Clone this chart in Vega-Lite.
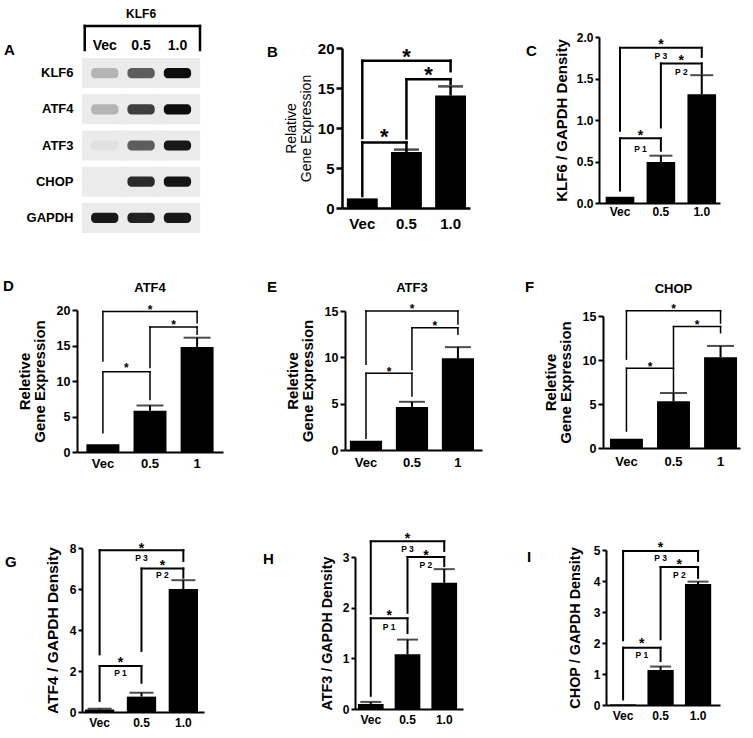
{
"$schema":"https://vega.github.io/schema/vega-lite/v6.json",
"background":"white",
"padding":{"left":3,"top":7,"right":2,"bottom":2},
"config":{"font":"Liberation Sans","view":{"stroke":null},"axis":{"grid":false,"labelFont":"Liberation Sans","titleFont":"Liberation Sans"},"title":{"font":"Liberation Sans"},"text":{"font":"Liberation Sans"}},
"datasets":{
"blot":[
{"protein":"KLF6","lane":"Vec","intensity":0.22},{"protein":"KLF6","lane":"0.5","intensity":0.6},{"protein":"KLF6","lane":"1.0","intensity":1.0},
{"protein":"ATF4","lane":"Vec","intensity":0.22},{"protein":"ATF4","lane":"0.5","intensity":0.75},{"protein":"ATF4","lane":"1.0","intensity":1.0},
{"protein":"ATF3","lane":"Vec","intensity":0.04},{"protein":"ATF3","lane":"0.5","intensity":0.6},{"protein":"ATF3","lane":"1.0","intensity":0.95},
{"protein":"CHOP","lane":"Vec","intensity":0.0},{"protein":"CHOP","lane":"0.5","intensity":0.85},{"protein":"CHOP","lane":"1.0","intensity":0.97},
{"protein":"GAPDH","lane":"Vec","intensity":0.95},{"protein":"GAPDH","lane":"0.5","intensity":0.9},{"protein":"GAPDH","lane":"1.0","intensity":0.95}
],
"lanes":[{"lane":"Vec"},{"lane":"0.5"},{"lane":"1.0"}],
"bars":[
{"p":"B","dose":"Vec","mean":1.2,"hi":1.2},{"p":"B","dose":"0.5","mean":7.0,"hi":7.3},{"p":"B","dose":"1.0","mean":14.05,"hi":15.2},
{"p":"C","dose":"Vec","mean":0.075,"hi":0.075},{"p":"C","dose":"0.5","mean":0.495,"hi":0.57},{"p":"C","dose":"1.0","mean":1.31,"hi":1.54},
{"p":"D","dose":"Vec","mean":1.1,"hi":1.1},{"p":"D","dose":"0.5","mean":5.8,"hi":6.55},{"p":"D","dose":"1","mean":14.8,"hi":16.1},
{"p":"E","dose":"Vec","mean":1.0,"hi":1.0},{"p":"E","dose":"0.5","mean":4.65,"hi":5.2},{"p":"E","dose":"1","mean":9.9,"hi":11.1},
{"p":"F","dose":"Vec","mean":1.05,"hi":1.05},{"p":"F","dose":"0.5","mean":5.3,"hi":6.25},{"p":"F","dose":"1","mean":10.3,"hi":11.6},
{"p":"G","dose":"Vec","mean":0.12,"hi":0.16},{"p":"G","dose":"0.5","mean":0.75,"hi":0.94},{"p":"G","dose":"1.0","mean":6.0,"hi":6.43},
{"p":"H","dose":"Vec","mean":0.1,"hi":0.14},{"p":"H","dose":"0.5","mean":1.08,"hi":1.37},{"p":"H","dose":"1.0","mean":2.49,"hi":2.76},
{"p":"I","dose":"Vec","mean":0.02,"hi":0.02},{"p":"I","dose":"0.5","mean":1.13,"hi":1.24},{"p":"I","dose":"1.0","mean":3.9,"hi":3.98}
],
"brk":[
{"p":"B","from":"Vec","to":"0.5","span":1,"y":8.2,"lo1":1.5,"lo2":7.4,"sy":9.6},
{"p":"B","from":"0.5","to":"1.0","span":1,"y":16.1,"lo1":8.7,"lo2":15.5,"sy":17.3},
{"p":"B","from":"Vec","to":"1.0","span":2,"y":18.4,"lo1":8.75,"lo2":17.1,"sy":19.6},
{"p":"C","from":"Vec","to":"0.5","span":1,"y":0.78,"lo1":0.15,"lo2":0.63,"sy":0.85,"lab":"P 1","ly":0.655},
{"p":"C","from":"0.5","to":"1.0","span":1,"y":1.68,"lo1":0.91,"lo2":1.56,"sy":1.75,"lab":"P 2","ly":1.575},
{"p":"C","from":"Vec","to":"1.0","span":2,"y":1.87,"lo1":0.87,"lo2":1.76,"sy":1.95,"lab":"P 3","ly":1.77},
{"p":"D","from":"Vec","to":"0.5","span":1,"y":11.3,"lo1":2.7,"lo2":7.4,"sy":12.2},
{"p":"D","from":"0.5","to":"1","span":1,"y":17.6,"lo1":11.9,"lo2":16.6,"sy":18.3},
{"p":"D","from":"Vec","to":"1","span":2,"y":19.8,"lo1":12.8,"lo2":18.2,"sy":20.5},
{"p":"E","from":"Vec","to":"0.5","span":1,"y":8.27,"lo1":1.26,"lo2":5.83,"sy":8.8},
{"p":"E","from":"0.5","to":"1","span":1,"y":13.2,"lo1":8.7,"lo2":12.5,"sy":13.7},
{"p":"E","from":"Vec","to":"1","span":2,"y":15.0,"lo1":9.25,"lo2":13.6,"sy":15.5},
{"p":"F","from":"Vec","to":"0.5","span":1,"y":9.06,"lo1":1.93,"lo2":6.4,"sy":9.6},
{"p":"F","from":"0.5","to":"1","span":1,"y":13.8,"lo1":9.12,"lo2":13.1,"sy":14.3},
{"p":"F","from":"Vec","to":"1","span":2,"y":15.6,"lo1":10.1,"lo2":14.2,"sy":16.1},
{"p":"G","from":"Vec","to":"0.5","span":1,"y":2.24,"lo1":0.54,"lo2":1.43,"sy":2.57,"lab":"P 1","ly":1.89},
{"p":"G","from":"0.5","to":"1.0","span":1,"y":7.0,"lo1":2.98,"lo2":6.55,"sy":7.28,"lab":"P 2","ly":6.67},
{"p":"G","from":"Vec","to":"1.0","span":2,"y":7.89,"lo1":2.81,"lo2":7.37,"sy":8.15,"lab":"P 3","ly":7.5},
{"p":"H","from":"Vec","to":"0.5","span":1,"y":1.79,"lo1":0.26,"lo2":1.5,"sy":1.91,"lab":"P 1","ly":1.62},
{"p":"H","from":"0.5","to":"1.0","span":1,"y":3.0,"lo1":1.9,"lo2":2.82,"sy":3.1,"lab":"P 2","ly":2.84},
{"p":"H","from":"Vec","to":"1.0","span":2,"y":3.31,"lo1":1.88,"lo2":3.12,"sy":3.43,"lab":"P 3","ly":3.16},
{"p":"I","from":"Vec","to":"0.5","span":1,"y":1.85,"lo1":0.18,"lo2":1.42,"sy":2.09,"lab":"P 1","ly":1.6},
{"p":"I","from":"0.5","to":"1.0","span":1,"y":4.45,"lo1":2.12,"lo2":4.1,"sy":4.62,"lab":"P 2","ly":4.19},
{"p":"I","from":"Vec","to":"1.0","span":2,"y":4.97,"lo1":2.09,"lo2":4.65,"sy":5.18,"lab":"P 3","ly":4.73}
]
},
"columns":3,"bounds":"flush","spacing":0,
"concat":[
 {"width":265,"height":233,
  "title":{"text":"A","fontSize":15,"fontWeight":"bold","color":"#000","anchor":"start","frame":"group","offset":0,"baseline":"alphabetic","align":"left","dx":-73,"dy":62},
  "resolve":{"scale":{"y":"independent"},"axis":{"x":"independent","y":"independent"}},
  "layer":[
   {"data":{"name":"blot"},"mark":{"type":"rect","color":"#ebebeb","width":{"band":1.25}},
    "encoding":{"x":{"field":"lane","type":"nominal","scale":{"domain":["Vec","0.5","1.0"],"range":[3,123],"paddingInner":0,"paddingOuter":0.15,"align":0.6},"axis":null},
     "y":{"field":"protein","type":"nominal","scale":{"domain":["KLF6","ATF4","ATF3","CHOP","GAPDH"],"range":[50,225],"paddingInner":0.17,"paddingOuter":0},"axis":{"title":null,"ticks":false,"domain":false,"labelFontSize":13,"labelFontWeight":"bold","labelColor":"#000","labelPadding":7,"offset":-3}}}},
   {"data":{"name":"blot"},"mark":{"type":"rect","width":{"band":0.75},"height":{"band":0.34},"cornerRadius":4},
    "encoding":{"x":{"field":"lane","type":"nominal","axis":null},
     "y":{"field":"protein","type":"nominal","scale":{"domain":["KLF6","ATF4","ATF3","CHOP","GAPDH"],"range":[50,225],"paddingInner":0.17,"paddingOuter":0},"axis":null},
     "color":{"field":"intensity","type":"quantitative","scale":{"domain":[0,1],"range":["#ebebeb","#0d0d0d"]},"legend":null}}},
   {"data":{"name":"lanes"},"mark":{"type":"text","fontSize":14,"fontWeight":"bold","baseline":"alphabetic","color":"#000"},
    "encoding":{"x":{"field":"lane","type":"nominal","axis":null},
     "y":{"datum":0,"type":"quantitative","scale":{"domain":[0,1],"range":[42,18]},"axis":null},"text":{"field":"lane"}}},
   {"data":{"values":[{}]},"mark":{"type":"text","text":"KLF6","fontSize":12,"fontWeight":"bold","baseline":"alphabetic","color":"#000"},
    "encoding":{"x":{"datum":"0.5","type":"nominal","axis":null},"y":{"datum":1.35,"type":"quantitative","scale":{"domain":[0,1],"range":[42,18]},"axis":null}}},
   {"data":{"values":[{}]},"mark":{"type":"rule","color":"#000","strokeWidth":2.5,"strokeCap":"square"},
    "encoding":{"x":{"datum":"Vec","type":"nominal","bandPosition":-0.05,"axis":null},"x2":{"datum":"1.0","bandPosition":1.12},"y":{"datum":1,"type":"quantitative","scale":{"domain":[0,1],"range":[42,18]},"axis":null}}},
   {"data":{"values":[{}]},"mark":{"type":"rule","color":"#000","strokeWidth":2.5,"strokeCap":"square"},
    "encoding":{"x":{"datum":"Vec","type":"nominal","bandPosition":-0.05,"axis":null},"y":{"datum":1,"type":"quantitative","scale":{"domain":[0,1],"range":[42,18]},"axis":null},"y2":{"datum":0}}},
   {"data":{"values":[{}]},"mark":{"type":"rule","color":"#000","strokeWidth":2.5,"strokeCap":"square"},
    "encoding":{"x":{"datum":"1.0","type":"nominal","bandPosition":1.12,"axis":null},"y":{"datum":1,"type":"quantitative","scale":{"domain":[0,1],"range":[42,18]},"axis":null},"y2":{"datum":0}}}
  ]},

 {"width":257,"height":233,
  "title":{"text":"B","fontSize":15,"fontWeight":"bold","color":"#000","anchor":"start","frame":"group","offset":0,"baseline":"alphabetic","align":"left","dx":-75,"dy":64},
  "resolve":{"axis":{"x":"independent","y":"independent"}},
  "layer":[
   {"data":{"name":"bars"},"transform":[{"filter":"datum.p==='B'"}],"mark":{"type":"bar","color":"#000"},
    "encoding":{
     "x":{"field":"dose","type":"nominal","scale":{"domain":["Vec","0.5","1.0"],"range":[0,128],"paddingInner":0.3,"paddingOuter":0.1,"align":0.55},"axis":{"title":null,"ticks":false,"offset":-33,"domainColor":"#000","domainWidth":2.5,"labelFontSize":15,"labelFontWeight":"bold","labelColor":"#000","labelPadding":8,"labelAngle":0}},
     "y":{"field":"mean","type":"quantitative","scale":{"domain":[0,20],"range":[200,40],"nice":false},"axis":{"title":["Relative","Gene Expression"],"values":[0,5,10,15,20],"format":"d","domainColor":"#000","domainWidth":2.5,"tickColor":"#000","tickWidth":2.5,"tickSize":6,"labelFontSize":15,"labelFontWeight":"bold","labelColor":"#000","labelPadding":2,"titleFontSize":14,"titleFontWeight":"normal","titleColor":"#000","titlePadding":4,"titleLineHeight":15}}}},
   {"data":{"name":"bars"},"transform":[{"filter":"datum.p==='B' && datum.hi>datum.mean"}],"mark":{"type":"rule","color":"#000","strokeWidth":2.5},
    "encoding":{"x":{"field":"dose","type":"nominal","axis":null},"y":{"field":"mean","type":"quantitative","axis":null},"y2":{"field":"hi"}}},
   {"data":{"name":"bars"},"transform":[{"filter":"datum.p==='B' && datum.hi>datum.mean"}],"mark":{"type":"tick","color":"#000","thickness":2.5,"size":25},
    "encoding":{"x":{"field":"dose","type":"nominal","axis":null},"y":{"field":"hi","type":"quantitative","axis":null}}},
   {"data":{"name":"brk"},"transform":[{"filter":"datum.p==='B'"}],"mark":{"type":"rule","color":"#000","strokeWidth":2.5,"strokeCap":"square"},
    "encoding":{"x":{"field":"from","type":"nominal","axis":null},"x2":{"field":"to"},"y":{"field":"y","type":"quantitative","axis":null}}},
   {"data":{"name":"brk"},"transform":[{"filter":"datum.p==='B'"}],"mark":{"type":"rule","color":"#000","strokeWidth":2.5,"strokeCap":"square"},
    "encoding":{"x":{"field":"from","type":"nominal","axis":null},"y":{"field":"y","type":"quantitative","axis":null},"y2":{"field":"lo1"}}},
   {"data":{"name":"brk"},"transform":[{"filter":"datum.p==='B'"}],"mark":{"type":"rule","color":"#000","strokeWidth":2.5,"strokeCap":"square"},
    "encoding":{"x":{"field":"to","type":"nominal","axis":null},"y":{"field":"y","type":"quantitative","axis":null},"y2":{"field":"lo2"}}},
   {"data":{"name":"brk"},"transform":[{"filter":"datum.p==='B' && datum.span===1"}],"mark":{"type":"text","text":"*","fontSize":22,"fontWeight":"bold","baseline":"middle","dy":5.7,"color":"#000"},
    "encoding":{"x":{"field":"from","type":"nominal","bandPosition":1.2143,"axis":null},"y":{"field":"sy","type":"quantitative","axis":null}}},
   {"data":{"name":"brk"},"transform":[{"filter":"datum.p==='B' && datum.span===2"}],"mark":{"type":"text","text":"*","fontSize":22,"fontWeight":"bold","baseline":"middle","dy":5.7,"color":"#000"},
    "encoding":{"x":{"field":"from","type":"nominal","bandPosition":1.9286,"axis":null},"y":{"field":"sy","type":"quantitative","axis":null}}}
  ]},

 {"width":142,"height":233,
  "title":{"text":"C","fontSize":15,"fontWeight":"bold","color":"#000","anchor":"start","frame":"group","offset":0,"baseline":"alphabetic","align":"left","dx":-73,"dy":63},
  "resolve":{"axis":{"x":"independent","y":"independent"}},
  "layer":[
   {"data":{"name":"bars"},"transform":[{"filter":"datum.p==='C'"}],"mark":{"type":"bar","color":"#000"},
    "encoding":{
     "x":{"field":"dose","type":"nominal","scale":{"domain":["Vec","0.5","1.0"],"range":[0,121],"paddingInner":0.3,"paddingOuter":0.13,"align":0.63},"axis":{"title":null,"ticks":false,"offset":-38,"domainColor":"#000","domainWidth":2,"labelFontSize":12,"labelFontWeight":"bold","labelColor":"#000","labelPadding":3,"labelAngle":0}},
     "y":{"field":"mean","type":"quantitative","scale":{"domain":[0,2],"range":[195,29],"nice":false},"axis":{"title":"KLF6 / GAPDH Density","values":[0,0.5,1,1.5,2],"format":".1f","domainColor":"#000","domainWidth":2,"tickColor":"#000","tickWidth":2,"tickSize":4,"labelFontSize":12,"labelFontWeight":"bold","labelColor":"#000","labelPadding":2,"titleFontSize":15,"titleFontWeight":"bold","titleColor":"#000","titlePadding":7}}}},
   {"data":{"name":"bars"},"transform":[{"filter":"datum.p==='C' && datum.hi>datum.mean"}],"mark":{"type":"rule","color":"#000","strokeWidth":2},
    "encoding":{"x":{"field":"dose","type":"nominal","axis":null},"y":{"field":"mean","type":"quantitative","axis":null},"y2":{"field":"hi"}}},
   {"data":{"name":"bars"},"transform":[{"filter":"datum.p==='C' && datum.hi>datum.mean"}],"mark":{"type":"tick","color":"#000","thickness":2,"size":23},
    "encoding":{"x":{"field":"dose","type":"nominal","axis":null},"y":{"field":"hi","type":"quantitative","axis":null}}},
   {"data":{"name":"brk"},"transform":[{"filter":"datum.p==='C'"}],"mark":{"type":"rule","color":"#000","strokeWidth":2,"strokeCap":"square"},
    "encoding":{"x":{"field":"from","type":"nominal","axis":null},"x2":{"field":"to"},"y":{"field":"y","type":"quantitative","axis":null}}},
   {"data":{"name":"brk"},"transform":[{"filter":"datum.p==='C'"}],"mark":{"type":"rule","color":"#000","strokeWidth":2,"strokeCap":"square"},
    "encoding":{"x":{"field":"from","type":"nominal","axis":null},"y":{"field":"y","type":"quantitative","axis":null},"y2":{"field":"lo1"}}},
   {"data":{"name":"brk"},"transform":[{"filter":"datum.p==='C'"}],"mark":{"type":"rule","color":"#000","strokeWidth":2,"strokeCap":"square"},
    "encoding":{"x":{"field":"to","type":"nominal","axis":null},"y":{"field":"y","type":"quantitative","axis":null},"y2":{"field":"lo2"}}},
   {"data":{"name":"brk"},"transform":[{"filter":"datum.p==='C' && datum.span===1"}],"mark":{"type":"text","text":"*","fontSize":14,"fontWeight":"bold","baseline":"middle","dy":3.6,"color":"#000"},
    "encoding":{"x":{"field":"from","type":"nominal","bandPosition":1.2143,"axis":null},"y":{"field":"sy","type":"quantitative","axis":null}}},
   {"data":{"name":"brk"},"transform":[{"filter":"datum.p==='C' && datum.span===2"}],"mark":{"type":"text","text":"*","fontSize":14,"fontWeight":"bold","baseline":"middle","dy":3.6,"color":"#000"},
    "encoding":{"x":{"field":"from","type":"nominal","bandPosition":1.9286,"axis":null},"y":{"field":"sy","type":"quantitative","axis":null}}},
   {"data":{"name":"brk"},"transform":[{"filter":"datum.p==='C' && datum.span===1"}],"mark":{"type":"text","fontSize":8.5,"fontWeight":"bold","baseline":"middle","color":"#000"},
    "encoding":{"x":{"field":"from","type":"nominal","bandPosition":1.2143,"axis":null},"y":{"field":"ly","type":"quantitative","axis":null},"text":{"field":"lab"}}},
   {"data":{"name":"brk"},"transform":[{"filter":"datum.p==='C' && datum.span===2"}],"mark":{"type":"text","fontSize":8.5,"fontWeight":"bold","baseline":"middle","color":"#000"},
    "encoding":{"x":{"field":"from","type":"nominal","bandPosition":1.9286,"axis":null},"y":{"field":"ly","type":"quantitative","axis":null},"text":{"field":"lab"}}}
  ]},

 {"width":265,"height":240,
  "title":{"text":"D","fontSize":15,"fontWeight":"bold","color":"#000","anchor":"start","frame":"group","offset":0,"baseline":"alphabetic","align":"left","dx":-74,"dy":65},
  "resolve":{"axis":{"x":"independent","y":"independent"}},
  "layer":[
   {"data":{"name":"bars"},"transform":[{"filter":"datum.p==='D'"}],"mark":{"type":"bar","color":"#000"},
    "encoding":{
     "x":{"field":"dose","type":"nominal","scale":{"domain":["Vec","0.5","1"],"range":[0,146],"paddingInner":0.3,"paddingOuter":0.2,"align":0.5},"axis":{"title":null,"ticks":false,"offset":-29,"domainColor":"#000","domainWidth":2,"labelFontSize":13,"labelFontWeight":"bold","labelColor":"#000","labelPadding":5,"labelAngle":0}},
     "y":{"field":"mean","type":"quantitative","scale":{"domain":[0,20],"range":[211,69],"nice":false},"axis":{"title":["Reletive","Gene Expression"],"values":[0,5,10,15,20],"format":"d","domainColor":"#000","domainWidth":2,"tickColor":"#000","tickWidth":2,"tickSize":5,"labelFontSize":12.5,"labelFontWeight":"bold","labelColor":"#000","labelPadding":2,"titleFontSize":15,"titleFontWeight":"bold","titleColor":"#000","titlePadding":9,"titleLineHeight":15}}}},
   {"data":{"values":[{}]},"mark":{"type":"text","text":"ATF4","fontSize":13,"fontWeight":"bold","baseline":"alphabetic","color":"#000"},
    "encoding":{"x":{"datum":"0.5","type":"nominal","axis":null},"y":{"datum":22.5,"type":"quantitative","axis":null}}},
   {"data":{"name":"bars"},"transform":[{"filter":"datum.p==='D' && datum.hi>datum.mean"}],"mark":{"type":"rule","color":"#000","strokeWidth":2},
    "encoding":{"x":{"field":"dose","type":"nominal","axis":null},"y":{"field":"mean","type":"quantitative","axis":null},"y2":{"field":"hi"}}},
   {"data":{"name":"bars"},"transform":[{"filter":"datum.p==='D' && datum.hi>datum.mean"}],"mark":{"type":"tick","color":"#000","thickness":2,"size":27},
    "encoding":{"x":{"field":"dose","type":"nominal","axis":null},"y":{"field":"hi","type":"quantitative","axis":null}}},
   {"data":{"name":"brk"},"transform":[{"filter":"datum.p==='D'"}],"mark":{"type":"rule","color":"#000","strokeWidth":1.5,"strokeCap":"square"},
    "encoding":{"x":{"field":"from","type":"nominal","axis":null},"x2":{"field":"to"},"y":{"field":"y","type":"quantitative","axis":null}}},
   {"data":{"name":"brk"},"transform":[{"filter":"datum.p==='D'"}],"mark":{"type":"rule","color":"#000","strokeWidth":1.5,"strokeCap":"square"},
    "encoding":{"x":{"field":"from","type":"nominal","axis":null},"y":{"field":"y","type":"quantitative","axis":null},"y2":{"field":"lo1"}}},
   {"data":{"name":"brk"},"transform":[{"filter":"datum.p==='D'"}],"mark":{"type":"rule","color":"#000","strokeWidth":1.5,"strokeCap":"square"},
    "encoding":{"x":{"field":"to","type":"nominal","axis":null},"y":{"field":"y","type":"quantitative","axis":null},"y2":{"field":"lo2"}}},
   {"data":{"name":"brk"},"transform":[{"filter":"datum.p==='D' && datum.span===1"}],"mark":{"type":"text","text":"*","fontSize":12,"fontWeight":"bold","baseline":"middle","dy":3.1,"color":"#000"},
    "encoding":{"x":{"field":"from","type":"nominal","bandPosition":1.2143,"axis":null},"y":{"field":"sy","type":"quantitative","axis":null}}},
   {"data":{"name":"brk"},"transform":[{"filter":"datum.p==='D' && datum.span===2"}],"mark":{"type":"text","text":"*","fontSize":12,"fontWeight":"bold","baseline":"middle","dy":3.1,"color":"#000"},
    "encoding":{"x":{"field":"from","type":"nominal","bandPosition":1.9286,"axis":null},"y":{"field":"sy","type":"quantitative","axis":null}}}
  ]},

 {"width":257,"height":240,
  "title":{"text":"E","fontSize":15,"fontWeight":"bold","color":"#000","anchor":"start","frame":"group","offset":0,"baseline":"alphabetic","align":"left","dx":-75,"dy":66},
  "resolve":{"axis":{"x":"independent","y":"independent"}},
  "layer":[
   {"data":{"name":"bars"},"transform":[{"filter":"datum.p==='E'"}],"mark":{"type":"bar","color":"#000"},
    "encoding":{
     "x":{"field":"dose","type":"nominal","scale":{"domain":["Vec","0.5","1"],"range":[3,140],"paddingInner":0.3,"paddingOuter":0.14,"align":0.38},"axis":{"title":null,"ticks":false,"offset":-31,"domainColor":"#000","domainWidth":2,"labelFontSize":13,"labelFontWeight":"bold","labelColor":"#000","labelPadding":6,"labelAngle":0}},
     "y":{"field":"mean","type":"quantitative","scale":{"domain":[0,15],"range":[209,70],"nice":false},"axis":{"title":["Reletive","Gene Expression"],"values":[0,5,10,15],"format":"d","offset":-3,"domainColor":"#000","domainWidth":2,"tickColor":"#000","tickWidth":2,"tickSize":5,"labelFontSize":12.5,"labelFontWeight":"bold","labelColor":"#000","labelPadding":2,"titleFontSize":15,"titleFontWeight":"bold","titleColor":"#000","titlePadding":9,"titleLineHeight":15}}}},
   {"data":{"values":[{}]},"mark":{"type":"text","text":"ATF3","fontSize":13,"fontWeight":"bold","baseline":"alphabetic","color":"#000"},
    "encoding":{"x":{"datum":"0.5","type":"nominal","axis":null},"y":{"datum":17.05,"type":"quantitative","axis":null}}},
   {"data":{"name":"bars"},"transform":[{"filter":"datum.p==='E' && datum.hi>datum.mean"}],"mark":{"type":"rule","color":"#000","strokeWidth":2},
    "encoding":{"x":{"field":"dose","type":"nominal","axis":null},"y":{"field":"mean","type":"quantitative","axis":null},"y2":{"field":"hi"}}},
   {"data":{"name":"bars"},"transform":[{"filter":"datum.p==='E' && datum.hi>datum.mean"}],"mark":{"type":"tick","color":"#000","thickness":2,"size":26},
    "encoding":{"x":{"field":"dose","type":"nominal","axis":null},"y":{"field":"hi","type":"quantitative","axis":null}}},
   {"data":{"name":"brk"},"transform":[{"filter":"datum.p==='E'"}],"mark":{"type":"rule","color":"#000","strokeWidth":1.5,"strokeCap":"square"},
    "encoding":{"x":{"field":"from","type":"nominal","axis":null},"x2":{"field":"to"},"y":{"field":"y","type":"quantitative","axis":null}}},
   {"data":{"name":"brk"},"transform":[{"filter":"datum.p==='E'"}],"mark":{"type":"rule","color":"#000","strokeWidth":1.5,"strokeCap":"square"},
    "encoding":{"x":{"field":"from","type":"nominal","axis":null},"y":{"field":"y","type":"quantitative","axis":null},"y2":{"field":"lo1"}}},
   {"data":{"name":"brk"},"transform":[{"filter":"datum.p==='E'"}],"mark":{"type":"rule","color":"#000","strokeWidth":1.5,"strokeCap":"square"},
    "encoding":{"x":{"field":"to","type":"nominal","axis":null},"y":{"field":"y","type":"quantitative","axis":null},"y2":{"field":"lo2"}}},
   {"data":{"name":"brk"},"transform":[{"filter":"datum.p==='E' && datum.span===1"}],"mark":{"type":"text","text":"*","fontSize":12,"fontWeight":"bold","baseline":"middle","dy":3.1,"color":"#000"},
    "encoding":{"x":{"field":"from","type":"nominal","bandPosition":1.2143,"axis":null},"y":{"field":"sy","type":"quantitative","axis":null}}},
   {"data":{"name":"brk"},"transform":[{"filter":"datum.p==='E' && datum.span===2"}],"mark":{"type":"text","text":"*","fontSize":12,"fontWeight":"bold","baseline":"middle","dy":3.1,"color":"#000"},
    "encoding":{"x":{"field":"from","type":"nominal","bandPosition":1.9286,"axis":null},"y":{"field":"sy","type":"quantitative","axis":null}}}
  ]},

 {"width":142,"height":240,
  "title":{"text":"F","fontSize":15,"fontWeight":"bold","color":"#000","anchor":"start","frame":"group","offset":0,"baseline":"alphabetic","align":"left","dx":-74,"dy":66},
  "resolve":{"axis":{"x":"independent","y":"independent"}},
  "layer":[
   {"data":{"name":"bars"},"transform":[{"filter":"datum.p==='F'"}],"mark":{"type":"bar","color":"#000"},
    "encoding":{
     "x":{"field":"dose","type":"nominal","scale":{"domain":["Vec","0.5","1"],"range":[4,141],"paddingInner":0.3,"paddingOuter":0.106,"align":0.7},"axis":{"title":null,"ticks":false,"offset":-33,"domainColor":"#000","domainWidth":2,"labelFontSize":13,"labelFontWeight":"bold","labelColor":"#000","labelPadding":7,"labelAngle":0}},
     "y":{"field":"mean","type":"quantitative","scale":{"domain":[0,15],"range":[207,75],"nice":false},"axis":{"title":["Reletive","Gene Expression"],"values":[0,5,10,15],"format":"d","offset":-4,"domainColor":"#000","domainWidth":2,"tickColor":"#000","tickWidth":2,"tickSize":5,"labelFontSize":12.5,"labelFontWeight":"bold","labelColor":"#000","labelPadding":2,"titleFontSize":15,"titleFontWeight":"bold","titleColor":"#000","titlePadding":9,"titleLineHeight":15}}}},
   {"data":{"values":[{}]},"mark":{"type":"text","text":"CHOP","fontSize":13,"fontWeight":"bold","baseline":"alphabetic","color":"#000"},
    "encoding":{"x":{"datum":"0.5","type":"nominal","axis":null},"y":{"datum":17.67,"type":"quantitative","axis":null}}},
   {"data":{"name":"bars"},"transform":[{"filter":"datum.p==='F' && datum.hi>datum.mean"}],"mark":{"type":"rule","color":"#000","strokeWidth":2},
    "encoding":{"x":{"field":"dose","type":"nominal","axis":null},"y":{"field":"mean","type":"quantitative","axis":null},"y2":{"field":"hi"}}},
   {"data":{"name":"bars"},"transform":[{"filter":"datum.p==='F' && datum.hi>datum.mean"}],"mark":{"type":"tick","color":"#000","thickness":2,"size":27},
    "encoding":{"x":{"field":"dose","type":"nominal","axis":null},"y":{"field":"hi","type":"quantitative","axis":null}}},
   {"data":{"name":"brk"},"transform":[{"filter":"datum.p==='F'"}],"mark":{"type":"rule","color":"#000","strokeWidth":1.5,"strokeCap":"square"},
    "encoding":{"x":{"field":"from","type":"nominal","axis":null},"x2":{"field":"to"},"y":{"field":"y","type":"quantitative","axis":null}}},
   {"data":{"name":"brk"},"transform":[{"filter":"datum.p==='F'"}],"mark":{"type":"rule","color":"#000","strokeWidth":1.5,"strokeCap":"square"},
    "encoding":{"x":{"field":"from","type":"nominal","axis":null},"y":{"field":"y","type":"quantitative","axis":null},"y2":{"field":"lo1"}}},
   {"data":{"name":"brk"},"transform":[{"filter":"datum.p==='F'"}],"mark":{"type":"rule","color":"#000","strokeWidth":1.5,"strokeCap":"square"},
    "encoding":{"x":{"field":"to","type":"nominal","axis":null},"y":{"field":"y","type":"quantitative","axis":null},"y2":{"field":"lo2"}}},
   {"data":{"name":"brk"},"transform":[{"filter":"datum.p==='F' && datum.span===1"}],"mark":{"type":"text","text":"*","fontSize":12,"fontWeight":"bold","baseline":"middle","dy":3.1,"color":"#000"},
    "encoding":{"x":{"field":"from","type":"nominal","bandPosition":1.2143,"axis":null},"y":{"field":"sy","type":"quantitative","axis":null}}},
   {"data":{"name":"brk"},"transform":[{"filter":"datum.p==='F' && datum.span===2"}],"mark":{"type":"text","text":"*","fontSize":12,"fontWeight":"bold","baseline":"middle","dy":3.1,"color":"#000"},
    "encoding":{"x":{"field":"from","type":"nominal","bandPosition":1.9286,"axis":null},"y":{"field":"sy","type":"quantitative","axis":null}}}
  ]},

 {"width":265,"height":258,
  "title":{"text":"G","fontSize":15,"fontWeight":"bold","color":"#000","anchor":"start","frame":"group","offset":0,"baseline":"alphabetic","align":"left","dx":-72,"dy":101},
  "resolve":{"axis":{"x":"independent","y":"independent"}},
  "layer":[
   {"data":{"name":"bars"},"transform":[{"filter":"datum.p==='G'"}],"mark":{"type":"bar","color":"#000"},
    "encoding":{
     "x":{"field":"dose","type":"nominal","scale":{"domain":["Vec","0.5","1.0"],"range":[5,127],"paddingInner":0.3,"paddingOuter":0.107,"align":0.33},"axis":{"title":null,"ticks":false,"offset":-27,"domainColor":"#000","domainWidth":2,"labelFontSize":12,"labelFontWeight":"bold","labelColor":"#000","labelPadding":5,"labelAngle":0}},
     "y":{"field":"mean","type":"quantitative","scale":{"domain":[0,8],"range":[231,67],"nice":false},"axis":{"title":"ATF4 / GAPDH Density","values":[0,2,4,6,8],"format":"d","offset":-5,"domainColor":"#000","domainWidth":2,"tickColor":"#000","tickWidth":2,"tickSize":4,"labelFontSize":12,"labelFontWeight":"bold","labelColor":"#000","labelPadding":2,"titleFontSize":15.5,"titleFontWeight":"bold","titleColor":"#000","titlePadding":9}}}},
   {"data":{"name":"bars"},"transform":[{"filter":"datum.p==='G' && datum.hi>datum.mean"}],"mark":{"type":"rule","color":"#000","strokeWidth":2},
    "encoding":{"x":{"field":"dose","type":"nominal","axis":null},"y":{"field":"mean","type":"quantitative","axis":null},"y2":{"field":"hi"}}},
   {"data":{"name":"bars"},"transform":[{"filter":"datum.p==='G' && datum.hi>datum.mean"}],"mark":{"type":"tick","color":"#000","thickness":2,"size":24},
    "encoding":{"x":{"field":"dose","type":"nominal","axis":null},"y":{"field":"hi","type":"quantitative","axis":null}}},
   {"data":{"name":"brk"},"transform":[{"filter":"datum.p==='G'"}],"mark":{"type":"rule","color":"#000","strokeWidth":2,"strokeCap":"square"},
    "encoding":{"x":{"field":"from","type":"nominal","axis":null},"x2":{"field":"to"},"y":{"field":"y","type":"quantitative","axis":null}}},
   {"data":{"name":"brk"},"transform":[{"filter":"datum.p==='G'"}],"mark":{"type":"rule","color":"#000","strokeWidth":2,"strokeCap":"square"},
    "encoding":{"x":{"field":"from","type":"nominal","axis":null},"y":{"field":"y","type":"quantitative","axis":null},"y2":{"field":"lo1"}}},
   {"data":{"name":"brk"},"transform":[{"filter":"datum.p==='G'"}],"mark":{"type":"rule","color":"#000","strokeWidth":2,"strokeCap":"square"},
    "encoding":{"x":{"field":"to","type":"nominal","axis":null},"y":{"field":"y","type":"quantitative","axis":null},"y2":{"field":"lo2"}}},
   {"data":{"name":"brk"},"transform":[{"filter":"datum.p==='G' && datum.span===1"}],"mark":{"type":"text","text":"*","fontSize":14,"fontWeight":"bold","baseline":"middle","dy":3.6,"color":"#000"},
    "encoding":{"x":{"field":"from","type":"nominal","bandPosition":1.2143,"axis":null},"y":{"field":"sy","type":"quantitative","axis":null}}},
   {"data":{"name":"brk"},"transform":[{"filter":"datum.p==='G' && datum.span===2"}],"mark":{"type":"text","text":"*","fontSize":14,"fontWeight":"bold","baseline":"middle","dy":3.6,"color":"#000"},
    "encoding":{"x":{"field":"from","type":"nominal","bandPosition":1.9286,"axis":null},"y":{"field":"sy","type":"quantitative","axis":null}}},
   {"data":{"name":"brk"},"transform":[{"filter":"datum.p==='G' && datum.span===1"}],"mark":{"type":"text","fontSize":8.5,"fontWeight":"bold","baseline":"middle","color":"#000"},
    "encoding":{"x":{"field":"from","type":"nominal","bandPosition":1.2143,"axis":null},"y":{"field":"ly","type":"quantitative","axis":null},"text":{"field":"lab"}}},
   {"data":{"name":"brk"},"transform":[{"filter":"datum.p==='G' && datum.span===2"}],"mark":{"type":"text","fontSize":8.5,"fontWeight":"bold","baseline":"middle","color":"#000"},
    "encoding":{"x":{"field":"from","type":"nominal","bandPosition":1.9286,"axis":null},"y":{"field":"ly","type":"quantitative","axis":null},"text":{"field":"lab"}}}
  ]},

 {"width":257,"height":258,
  "title":{"text":"H","fontSize":15,"fontWeight":"bold","color":"#000","anchor":"start","frame":"group","offset":0,"baseline":"alphabetic","align":"left","dx":-79,"dy":98},
  "resolve":{"axis":{"x":"independent","y":"independent"}},
  "layer":[
   {"data":{"name":"bars"},"transform":[{"filter":"datum.p==='H'"}],"mark":{"type":"bar","color":"#000"},
    "encoding":{
     "x":{"field":"dose","type":"nominal","scale":{"domain":["Vec","0.5","1.0"],"range":[13,121],"paddingInner":0.3,"paddingOuter":0.12,"align":0.33},"axis":{"title":null,"ticks":false,"offset":-30,"domainColor":"#000","domainWidth":2,"labelFontSize":12,"labelFontWeight":"bold","labelColor":"#000","labelPadding":5,"labelAngle":0}},
     "y":{"field":"mean","type":"quantitative","scale":{"domain":[0,3],"range":[228,76],"nice":false},"axis":{"title":"ATF3 / GAPDH Density","values":[0,1,2,3],"format":"d","offset":-13,"domainColor":"#000","domainWidth":2,"tickColor":"#000","tickWidth":2,"tickSize":4,"labelFontSize":12,"labelFontWeight":"bold","labelColor":"#000","labelPadding":2,"titleFontSize":14.3,"titleFontWeight":"bold","titleColor":"#000","titlePadding":8}}}},
   {"data":{"name":"bars"},"transform":[{"filter":"datum.p==='H' && datum.hi>datum.mean"}],"mark":{"type":"rule","color":"#000","strokeWidth":2},
    "encoding":{"x":{"field":"dose","type":"nominal","axis":null},"y":{"field":"mean","type":"quantitative","axis":null},"y2":{"field":"hi"}}},
   {"data":{"name":"bars"},"transform":[{"filter":"datum.p==='H' && datum.hi>datum.mean"}],"mark":{"type":"tick","color":"#000","thickness":2,"size":21},
    "encoding":{"x":{"field":"dose","type":"nominal","axis":null},"y":{"field":"hi","type":"quantitative","axis":null}}},
   {"data":{"name":"brk"},"transform":[{"filter":"datum.p==='H'"}],"mark":{"type":"rule","color":"#000","strokeWidth":2,"strokeCap":"square"},
    "encoding":{"x":{"field":"from","type":"nominal","axis":null},"x2":{"field":"to"},"y":{"field":"y","type":"quantitative","axis":null}}},
   {"data":{"name":"brk"},"transform":[{"filter":"datum.p==='H'"}],"mark":{"type":"rule","color":"#000","strokeWidth":2,"strokeCap":"square"},
    "encoding":{"x":{"field":"from","type":"nominal","axis":null},"y":{"field":"y","type":"quantitative","axis":null},"y2":{"field":"lo1"}}},
   {"data":{"name":"brk"},"transform":[{"filter":"datum.p==='H'"}],"mark":{"type":"rule","color":"#000","strokeWidth":2,"strokeCap":"square"},
    "encoding":{"x":{"field":"to","type":"nominal","axis":null},"y":{"field":"y","type":"quantitative","axis":null},"y2":{"field":"lo2"}}},
   {"data":{"name":"brk"},"transform":[{"filter":"datum.p==='H' && datum.span===1"}],"mark":{"type":"text","text":"*","fontSize":14,"fontWeight":"bold","baseline":"middle","dy":3.6,"color":"#000"},
    "encoding":{"x":{"field":"from","type":"nominal","bandPosition":1.2143,"axis":null},"y":{"field":"sy","type":"quantitative","axis":null}}},
   {"data":{"name":"brk"},"transform":[{"filter":"datum.p==='H' && datum.span===2"}],"mark":{"type":"text","text":"*","fontSize":14,"fontWeight":"bold","baseline":"middle","dy":3.6,"color":"#000"},
    "encoding":{"x":{"field":"from","type":"nominal","bandPosition":1.9286,"axis":null},"y":{"field":"sy","type":"quantitative","axis":null}}},
   {"data":{"name":"brk"},"transform":[{"filter":"datum.p==='H' && datum.span===1"}],"mark":{"type":"text","fontSize":8.5,"fontWeight":"bold","baseline":"middle","color":"#000"},
    "encoding":{"x":{"field":"from","type":"nominal","bandPosition":1.2143,"axis":null},"y":{"field":"ly","type":"quantitative","axis":null},"text":{"field":"lab"}}},
   {"data":{"name":"brk"},"transform":[{"filter":"datum.p==='H' && datum.span===2"}],"mark":{"type":"text","fontSize":8.5,"fontWeight":"bold","baseline":"middle","color":"#000"},
    "encoding":{"x":{"field":"from","type":"nominal","bandPosition":1.9286,"axis":null},"y":{"field":"ly","type":"quantitative","axis":null},"text":{"field":"lab"}}}
  ]},

 {"width":142,"height":258,
  "title":{"text":"I","fontSize":15,"fontWeight":"bold","color":"#000","anchor":"start","frame":"group","offset":0,"baseline":"alphabetic","align":"left","dx":-72,"dy":96},
  "resolve":{"axis":{"x":"independent","y":"independent"}},
  "layer":[
   {"data":{"name":"bars"},"transform":[{"filter":"datum.p==='I'"}],"mark":{"type":"bar","color":"#000"},
    "encoding":{
     "x":{"field":"dose","type":"nominal","scale":{"domain":["Vec","0.5","1.0"],"range":[7,121],"paddingInner":0.3,"paddingOuter":0.17,"align":0.31},"axis":{"title":null,"ticks":false,"offset":-34,"domainColor":"#000","domainWidth":2,"labelFontSize":12,"labelFontWeight":"bold","labelColor":"#000","labelPadding":5,"labelAngle":0}},
     "y":{"field":"mean","type":"quantitative","scale":{"domain":[0,5],"range":[224,69],"nice":false},"axis":{"title":"CHOP / GAPDH Density","values":[0,1,2,3,4,5],"format":"d","offset":-7,"domainColor":"#000","domainWidth":2,"tickColor":"#000","tickWidth":2,"tickSize":4,"labelFontSize":12,"labelFontWeight":"bold","labelColor":"#000","labelPadding":2,"titleFontSize":14.4,"titleFontWeight":"bold","titleColor":"#000","titlePadding":11}}}},
   {"data":{"name":"bars"},"transform":[{"filter":"datum.p==='I' && datum.hi>datum.mean"}],"mark":{"type":"rule","color":"#000","strokeWidth":2},
    "encoding":{"x":{"field":"dose","type":"nominal","axis":null},"y":{"field":"mean","type":"quantitative","axis":null},"y2":{"field":"hi"}}},
   {"data":{"name":"bars"},"transform":[{"filter":"datum.p==='I' && datum.hi>datum.mean"}],"mark":{"type":"tick","color":"#000","thickness":2,"size":21},
    "encoding":{"x":{"field":"dose","type":"nominal","axis":null},"y":{"field":"hi","type":"quantitative","axis":null}}},
   {"data":{"name":"brk"},"transform":[{"filter":"datum.p==='I'"}],"mark":{"type":"rule","color":"#000","strokeWidth":2,"strokeCap":"square"},
    "encoding":{"x":{"field":"from","type":"nominal","axis":null},"x2":{"field":"to"},"y":{"field":"y","type":"quantitative","axis":null}}},
   {"data":{"name":"brk"},"transform":[{"filter":"datum.p==='I'"}],"mark":{"type":"rule","color":"#000","strokeWidth":2,"strokeCap":"square"},
    "encoding":{"x":{"field":"from","type":"nominal","axis":null},"y":{"field":"y","type":"quantitative","axis":null},"y2":{"field":"lo1"}}},
   {"data":{"name":"brk"},"transform":[{"filter":"datum.p==='I'"}],"mark":{"type":"rule","color":"#000","strokeWidth":2,"strokeCap":"square"},
    "encoding":{"x":{"field":"to","type":"nominal","axis":null},"y":{"field":"y","type":"quantitative","axis":null},"y2":{"field":"lo2"}}},
   {"data":{"name":"brk"},"transform":[{"filter":"datum.p==='I' && datum.span===1"}],"mark":{"type":"text","text":"*","fontSize":14,"fontWeight":"bold","baseline":"middle","dy":3.6,"color":"#000"},
    "encoding":{"x":{"field":"from","type":"nominal","bandPosition":1.2143,"axis":null},"y":{"field":"sy","type":"quantitative","axis":null}}},
   {"data":{"name":"brk"},"transform":[{"filter":"datum.p==='I' && datum.span===2"}],"mark":{"type":"text","text":"*","fontSize":14,"fontWeight":"bold","baseline":"middle","dy":3.6,"color":"#000"},
    "encoding":{"x":{"field":"from","type":"nominal","bandPosition":1.9286,"axis":null},"y":{"field":"sy","type":"quantitative","axis":null}}},
   {"data":{"name":"brk"},"transform":[{"filter":"datum.p==='I' && datum.span===1"}],"mark":{"type":"text","fontSize":8.5,"fontWeight":"bold","baseline":"middle","color":"#000"},
    "encoding":{"x":{"field":"from","type":"nominal","bandPosition":1.2143,"axis":null},"y":{"field":"ly","type":"quantitative","axis":null},"text":{"field":"lab"}}},
   {"data":{"name":"brk"},"transform":[{"filter":"datum.p==='I' && datum.span===2"}],"mark":{"type":"text","fontSize":8.5,"fontWeight":"bold","baseline":"middle","color":"#000"},
    "encoding":{"x":{"field":"from","type":"nominal","bandPosition":1.9286,"axis":null},"y":{"field":"ly","type":"quantitative","axis":null},"text":{"field":"lab"}}}
  ]}
]
}
